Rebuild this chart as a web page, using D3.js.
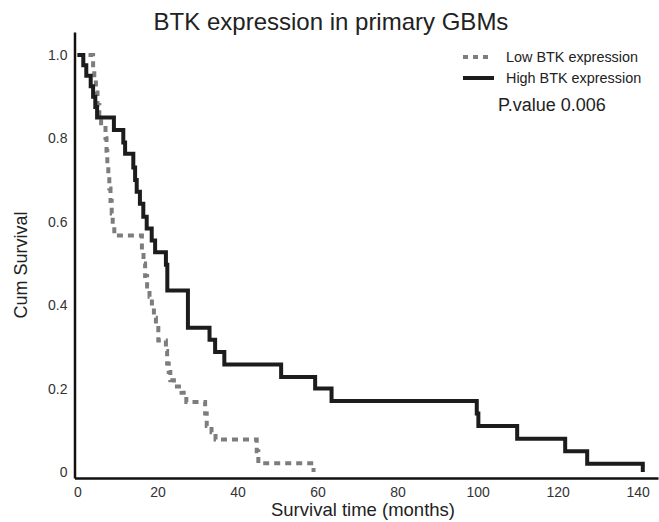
<!DOCTYPE html>
<html>
<head>
<meta charset="utf-8">
<script src="https://cdn.jsdelivr.net/npm/d3@7"></script>
<style>
  body { margin: 0; background: #fff; }
  svg { display: block; font-family: "Liberation Sans", Arial, sans-serif; }
  .axis text { font-size: 14px; fill: #333; }
  .axis path { stroke: #111; stroke-width: 2.5px; }
</style>
</head>
<body>
<script>
// survival curves: time (months) and cumulative survival
let highTime = [0, 1.45, 2.2, 3.3, 3.9, 4.45, 4.9, 9.1, 11.45, 11.9, 13.95, 14.4, 14.8, 15.6, 16.45,
  17.3, 18.55, 19.4, 22.1, 22.45, 27.6, 33, 34.4, 36.7, 50.9, 59.4, 63.5, 99.8, 100.2, 109.9,
  121.9, 127.4, 141.3]
let highSurv = [1, 0.975, 0.95, 0.925, 0.9, 0.875, 0.85, 0.82, 0.79, 0.763, 0.73, 0.7, 0.672, 0.643, 0.612,
  0.584, 0.555, 0.527, 0.497, 0.435, 0.346, 0.317, 0.288, 0.258, 0.228, 0.2, 0.17, 0.14, 0.11, 0.08,
  0.05, 0.02, 0]

let lowTime = [0, 3.9, 4.2, 4.6, 5.0, 5.45, 5.9, 7.0, 7.25, 7.45, 7.7, 7.95, 8.25, 8.55, 8.8, 9.2,
  16.1, 16.5, 16.9, 17.4, 18.0, 18.6, 19.1, 19.6, 20.2, 22.1, 22.4, 22.8, 23.2, 24.1, 26.0, 27.2,
  31.9, 32.3, 33.5, 34.5, 44.8, 45.2, 59]
let lowSurv = [1, 0.97, 0.94, 0.91, 0.88, 0.85, 0.83, 0.8, 0.77, 0.74, 0.71, 0.68, 0.65, 0.62, 0.595, 0.567,
  0.53, 0.5, 0.47, 0.445, 0.42, 0.395, 0.37, 0.345, 0.315, 0.29, 0.26, 0.24, 0.22, 0.205, 0.19, 0.168,
  0.14, 0.11, 0.095, 0.078, 0.05, 0.021, 0]

let xTicks = [0, 20, 40, 60, 80, 100, 120, 140]
let yTicks = [0, 0.2, 0.4, 0.6, 0.8, 1.0]

let width = 659, height = 522

let svg = d3.select('body').append('svg')
  .attr('width', width)
  .attr('height', height)

// axis lines run a little past the data, like in the original
let x = d3.scaleLinear().domain([-0.75, 145.1]).range([74.5, 658])
let y = d3.scaleLinear().domain([-0.0144, 1.055]).range([478, 32])

svg.append('g')
  .attr('class', 'axis axis--x')
  .attr('transform', 'translate(0,' + y(-0.0144) + ')')
  .call(d3.axisBottom(x).tickValues(xTicks).tickSize(0).tickPadding(9).tickFormat(d3.format('d')))

svg.append('g')
  .attr('class', 'axis axis--y')
  .attr('transform', 'translate(' + x(-0.75) + ',0)')
  .call(d3.axisLeft(y).tickValues(yTicks).tickSize(0).tickPadding(7)
    .tickFormat(d => d === 0 ? '0' : d3.format('.1f')(d)))

let line = d3.line()
  .curve(d3.curveStepAfter)
  .x(d => x(d[0]))
  .y(d => y(d[1]))

let low = lowTime.map((t, i) => [t, lowSurv[i]])
let high = highTime.map((t, i) => [t, highSurv[i]])

svg.append('path')
  .attr('d', line(low))
  .attr('fill', 'none')
  .attr('stroke', '#7d7d7d')
  .attr('stroke-width', 4)
  .attr('stroke-dasharray', '6,5')

svg.append('path')
  .attr('d', line(high))
  .attr('fill', 'none')
  .attr('stroke', '#1c1c1c')
  .attr('stroke-width', 4)

// title and axis labels
svg.append('text')
  .attr('x', 331).attr('y', 30)
  .attr('text-anchor', 'middle')
  .style('font-size', '24px').style('fill', '#222')
  .text('BTK expression in primary GBMs')

svg.append('text')
  .attr('x', 363).attr('y', 516)
  .attr('text-anchor', 'middle')
  .style('font-size', '18.5px').style('fill', '#222')
  .text('Survival time (months)')

svg.append('text')
  .attr('transform', 'translate(27,265) rotate(-90)')
  .attr('text-anchor', 'middle')
  .style('font-size', '18px').style('fill', '#222')
  .text('Cum Survival')

// legend
let legend = svg.append('g')
legend.append('line')
  .attr('x1', 463).attr('x2', 490).attr('y1', 57).attr('y2', 57)
  .attr('stroke', '#7d7d7d').attr('stroke-width', 4).attr('stroke-dasharray', '5,5')
legend.append('line')
  .attr('x1', 463).attr('x2', 494).attr('y1', 78).attr('y2', 78)
  .attr('stroke', '#1c1c1c').attr('stroke-width', 4)
legend.append('text')
  .attr('x', 506).attr('y', 62)
  .style('font-size', '14.4px').style('fill', '#222')
  .text('Low BTK expression')
legend.append('text')
  .attr('x', 506).attr('y', 83)
  .style('font-size', '14.4px').style('fill', '#222')
  .text('High BTK expression')

svg.append('text')
  .attr('x', 498).attr('y', 111)
  .style('font-size', '18px').style('fill', '#222')
  .text('P.value 0.006')
</script>
</body>
</html>
